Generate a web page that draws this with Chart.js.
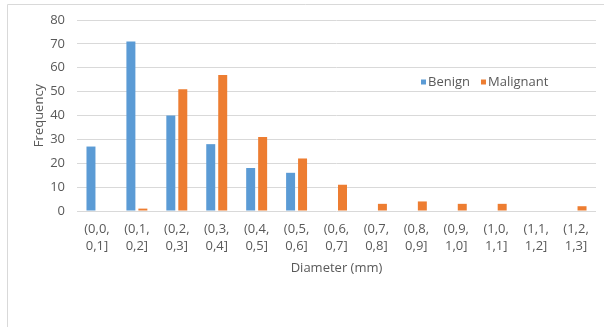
<!DOCTYPE html>
<html>
<head>
<meta charset="utf-8">
<title>Diameter histogram</title>
<script src="https://cdn.jsdelivr.net/npm/chart.js@4.4.1/dist/chart.umd.min.js"></script>
<style>
  html, body { margin: 0; padding: 0; background: #fff; overflow: hidden; }
  #wrap { position: absolute; left: 0; top: 0; width: 604px; height: 327px; }
</style>
</head>
<body>
<div id="wrap"><canvas id="chart" width="604" height="327"></canvas></div>
<script>
// Diameter bins (mm), written as two-line labels
const binLabels = [
  ["(0,0,", "0,1]"], ["(0,1,", "0,2]"], ["(0,2,", "0,3]"], ["(0,3,", "0,4]"],
  ["(0,4,", "0,5]"], ["(0,5,", "0,6]"], ["(0,6,", "0,7]"], ["(0,7,", "0,8]"],
  ["(0,8,", "0,9]"], ["(0,9,", "1,0]"], ["(1,0,", "1,1]"], ["(1,1,", "1,2]"],
  ["(1,2,", "1,3]"]
];

// Counts per bin
const benignCounts    = [27, 71, 40, 28, 18, 16, 0, 0, 0, 0, 0, 0, 0];
const malignantCounts = [0, 1, 51, 57, 31, 22, 11, 3, 4, 3, 3, 0, 2];

const seriesNames = ["Benign", "Malignant"];
const yTicks = [0, 10, 20, 30, 40, 50, 60, 70, 80];

const TEXT = "#595959";
const GRID = "#d9d9d9";
const FONT = "'Open Sans', 'Noto Sans', sans-serif";
const FONT_SIZE = 13;

// Outer frame (top and left edges visible)
const framePlugin = {
  id: "frame",
  beforeDraw(chart) {
    const ctx = chart.ctx;
    ctx.save();
    ctx.strokeStyle = GRID;
    ctx.lineWidth = 1;
    ctx.beginPath();
    ctx.moveTo(7.5, chart.height);
    ctx.lineTo(7.5, 4.5);
    ctx.lineTo(chart.width, 4.5);
    ctx.stroke();
    ctx.restore();
  }
};

// Legend drawn inside the plot area, to the right
const insideLegend = {
  id: "insideLegend",
  afterDraw(chart) {
    const ctx = chart.ctx;
    ctx.save();
    ctx.font = FONT_SIZE + "px " + FONT;
    ctx.textBaseline = "middle";
    ctx.textAlign = "left";
    let x = 421;
    const y = 82;
    chart.data.datasets.forEach((ds) => {
      ctx.fillStyle = ds.backgroundColor;
      ctx.fillRect(x, y - 2.5, 5, 5);
      x += 7;
      ctx.fillStyle = TEXT;
      ctx.fillText(ds.label, x, y);
      x += ctx.measureText(ds.label).width + 11;
    });
    ctx.restore();
  }
};

new Chart(document.getElementById("chart"), {
  type: "bar",
  data: {
    labels: binLabels,
    datasets: [
      { label: seriesNames[0], data: benignCounts, backgroundColor: "#5B9BD5",
        categoryPercentage: 0.6, barPercentage: 0.75 },
      { label: seriesNames[1], data: malignantCounts, backgroundColor: "#ED7D31",
        categoryPercentage: 0.6, barPercentage: 0.75 }
    ]
  },
  options: {
    responsive: false,
    animation: false,
    devicePixelRatio: 1,
    layout: { padding: { top: 20, right: 8, left: 0, bottom: 0 } },
    plugins: {
      legend: { display: false },
      tooltip: { enabled: false }
    },
    scales: {
      x: {
        grid: { display: false, drawTicks: false },
        border: { display: false },
        ticks: {
          color: TEXT,
          font: { family: FONT, size: FONT_SIZE, lineHeight: "17px" },
          padding: 10,
          maxRotation: 0,
          autoSkip: false
        },
        title: {
          display: true,
          text: "Diameter (mm)",
          color: TEXT,
          font: { family: FONT, size: FONT_SIZE },
          padding: { top: 0, bottom: 51 }
        },
        afterFit(scale) { scale.height = 116; }
      },
      y: {
        min: 0,
        max: 80,
        afterBuildTicks(scale) { scale.ticks = yTicks.map(v => ({ value: v })); },
        grid: { color: GRID, drawTicks: false, lineWidth: 1 },
        border: { display: false },
        ticks: {
          color: TEXT,
          font: { family: FONT, size: FONT_SIZE },
          padding: 12
        },
        title: {
          display: true,
          text: "Frequency",
          color: TEXT,
          font: { family: FONT, size: FONT_SIZE },
          padding: { top: 31, bottom: 0 }
        },
        afterFit(scale) { scale.width = 77; }
      }
    }
  },
  plugins: [framePlugin, insideLegend]
});
</script>
</body>
</html>
